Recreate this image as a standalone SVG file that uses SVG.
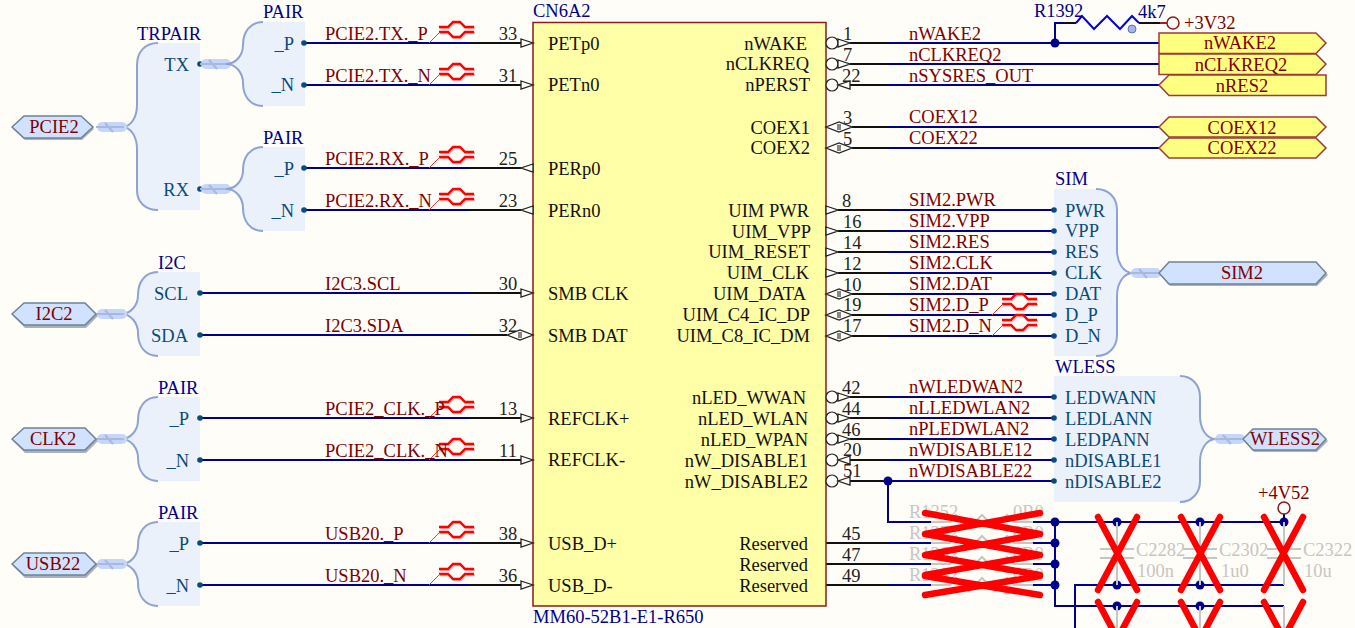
<svg xmlns="http://www.w3.org/2000/svg" xmlns:xlink="http://www.w3.org/1999/xlink" width="1355" height="628" viewBox="0 0 1355 628">
<style>
text{font-family:"Liberation Serif","Times New Roman",serif;font-size:18.5px}
.net{fill:#800000}.pin{fill:#111}.num{fill:#222}.ttl{fill:#00008b}.ent{fill:#0b4a7a}.mid{text-anchor:middle}.end{text-anchor:end}
.gr{fill:#c6c6c2}
.w{fill:none;stroke:#00008b;stroke-width:2}
.k{fill:none;stroke:#111;stroke-width:2}
.g{fill:none;stroke:#c6c6c2;stroke-width:2}
.hb{fill:#ebf1fb;stroke:#8fa3d3;stroke-width:2}
.hr{fill:#ebf1fb}
.st{fill:none;stroke:#c6d6fa;stroke-width:10;stroke-linecap:round}
.sl{fill:none;stroke:#a9b9de;stroke-width:2}
.pw{fill:#d0e2ff;stroke:#6f8296;stroke-width:1.5}
.py{fill:#ffff80;stroke:#9c3a3a;stroke-width:1.5}
.sh{fill:#a9b2bc}
.arr{fill:#fffdf8;stroke:#222;stroke-width:1.3}
.bub{fill:#fffdf8;stroke:#222;stroke-width:1.2}
.d{fill:#0b4a7a}.j{fill:#00008b}
.x{fill:none;stroke:#ff0000;stroke-width:6.5;stroke-linecap:round}
.dpr{fill:none;stroke:#ff0000;stroke-width:2.4}
.dps{fill:none;stroke:#e6b9b9;stroke-width:2.4}
.dpt{fill:none;stroke:#ff3030;stroke-width:1}
</style>
<defs>
<g id="pairL">
<rect class="hr" x="263" y="22" width="42" height="84"/>
<path class="hb" d="M263,22C250,22 243,32 243,45C243,55 236,64 226,64C236,64 243,73 243,83C243,96 250,106 263,106"/>
</g>
<g id="stub">
<path class="st" d="M4,0H24"/><path class="sl" d="M-2,0H26M7,-4L15,5"/>
</g>
<g id="dp">
<path class="dps" d="M11,-15H20L25,-20H32L37,-15H46M11,-10H20L25,-5H32L37,-10H46"/>
<path class="dpr" d="M10,-16H19L24,-21H31L36,-16H45M10,-11H19L24,-6H31L36,-11H45"/>
<path class="dpt" d="M0,0L11,-11"/>
</g>
<polygon id="inL" class="arr" points="521,-4 533,0 521,4"/>
<polygon id="outL" class="arr" points="533,-4 521,0 533,4"/>
<g id="bidL"><polygon class="arr" points="507,0 520,-5 533,0 520,5"/><rect x="518" y="-3" width="4" height="6" fill="#888"/></g>
<polygon id="outR" class="arr" points="826,-4 838,0 826,4"/>
<g id="bidR"><polygon class="arr" points="826,0 839,-5 852,0 839,5"/><rect x="837" y="-3" width="4" height="6" fill="#888"/></g>
<g id="nOutR"><circle class="bub" cx="832" cy="0" r="6"/><polygon class="arr" points="838,-4 850,0 838,4"/></g>
<g id="nInR"><circle class="bub" cx="832" cy="0" r="6"/><polygon class="arr" points="850,-4 838,0 850,4"/></g>
<g id="res"><path class="g" d="M931,0H950L956,-7L969,6L982,-7L995,6L1007,-7L1014,0H1033"/><circle cx="1007" cy="6" r="3.5" fill="#c6c6c2"/></g>
<g id="cap"><path class="g" d="M0,0V26M-17,27H17M-17,36H17M0,37V63"/></g>
</defs>
<rect width="1355" height="628" fill="#fffdf8"/>

<g id="connectors">
<path class="w" d="M305,43H470M305,85H470M305,168H470M305,210H470M200,293H470M200,335H470M200,418H470M200,460H470M200,543H470M200,585H470"/>
<path class="k" d="M470,43H521M470,85H521M470,168H521M470,210H521M470,293H521M470,335H507M470,418H521M470,460H521M470,543H521M470,585H521"/>
<path class="k" d="M850,43H888M850,64H888M850,85H888M852,127H888M852,148H888M838,210H888M838,231H888M838,252H888M838,273H888M852,294H888M852,315H888M852,336H888M850,397H888M850,418H888M850,439H888M850,460H888M850,481H888M826,543H888M826,564H888M826,585H888"/>
<path class="w" d="M888,43H1159M888,64H1159M888,85H1159M888,127H1159M888,148H1159M888,210H1054M888,231H1054M888,252H1054M888,273H1054M888,294H1054M888,315H1054M888,336H1054M888,397H1054M888,418H1054M888,439H1054M888,460H1054M888,481H1054"/>
<path class="w" d="M1055,43V23H1064"/>
<path class="k" d="M1064,23H1076M1139,23H1160"/>
<path d="M1160,23H1167" fill="none" stroke="#9c2020" stroke-width="2"/>
<path class="w" d="M888,481V522H931M888,543H931M888,564H931M888,585H931M1033,522H1284V508M1033,543H1055M1033,564H1055M1033,585H1055M1055,522V606H1284M1075,628V585H1284"/>
<g transform="translate(429,43)"><use href="#dp"/></g>
<g transform="translate(429,85)"><use href="#dp"/></g>
<g transform="translate(429,168)"><use href="#dp"/></g>
<g transform="translate(429,210)"><use href="#dp"/></g>
<g transform="translate(429,418)"><use href="#dp"/></g>
<g transform="translate(429,460)"><use href="#dp"/></g>
<g transform="translate(429,543)"><use href="#dp"/></g>
<g transform="translate(429,585)"><use href="#dp"/></g>
<g transform="translate(992,315)"><use href="#dp"/></g>
<g transform="translate(992,336)"><use href="#dp"/></g>
<g class="j">
<circle cx="1055" cy="43" r="4.5"/><circle cx="888" cy="481" r="4.5"/>
<circle cx="1055" cy="522" r="4.5"/><circle cx="1055" cy="543" r="4.5"/><circle cx="1055" cy="564" r="4.5"/><circle cx="1055" cy="585" r="4.5"/>
<circle cx="1117" cy="522" r="4.5"/><circle cx="1200" cy="522" r="4.5"/><circle cx="1284" cy="522" r="4.5"/>
<circle cx="1117" cy="585" r="4.5"/><circle cx="1200" cy="585" r="4.5"/>
<circle cx="1117" cy="606" r="4.5"/><circle cx="1200" cy="606" r="4.5"/>
</g>
</g>

<g id="net-labels">
<text class="net" x="325" y="40">PCIE2.TX._P</text>
<text class="net" x="325" y="82">PCIE2.TX._N</text>
<text class="net" x="325" y="165">PCIE2.RX._P</text>
<text class="net" x="325" y="207">PCIE2.RX._N</text>
<text class="net" x="325" y="290">I2C3.SCL</text>
<text class="net" x="325" y="332">I2C3.SDA</text>
<text class="net" x="325" y="415">PCIE2_CLK._P</text>
<text class="net" x="325" y="457">PCIE2_CLK._N</text>
<text class="net" x="325" y="540">USB20._P</text>
<text class="net" x="325" y="582">USB20._N</text>
<text class="net" x="909" y="40">nWAKE2</text>
<text class="net" x="909" y="61">nCLKREQ2</text>
<text class="net" x="909" y="82">nSYSRES_OUT</text>
<text class="net" x="909" y="123">COEX12</text>
<text class="net" x="909" y="144">COEX22</text>
<text class="net" x="909" y="206">SIM2.PWR</text>
<text class="net" x="909" y="227">SIM2.VPP</text>
<text class="net" x="909" y="248">SIM2.RES</text>
<text class="net" x="909" y="269">SIM2.CLK</text>
<text class="net" x="909" y="290">SIM2.DAT</text>
<text class="net" x="909" y="311">SIM2.D_P</text>
<text class="net" x="909" y="332">SIM2.D_N</text>
<text class="net" x="909" y="393">nWLEDWAN2</text>
<text class="net" x="909" y="414">nLLEDWLAN2</text>
<text class="net" x="909" y="435">nPLEDWLAN2</text>
<text class="net" x="909" y="456">nWDISABLE12</text>
<text class="net" x="909" y="477">nWDISABLE22</text>
</g>

<g id="CN6A2">
<rect x="533" y="22.5" width="293" height="583.5" fill="#ffffa8" stroke="#8b1a1a" stroke-width="1.5"/>
<text class="ttl" x="533" y="17">CN6A2</text>
<text class="ttl" x="533" y="623">MM60-52B1-E1-R650</text>
<g class="pin">
<text x="548" y="50">PETp0</text><text x="548" y="91">PETn0</text><text x="548" y="175">PERp0</text><text x="548" y="217">PERn0</text>
<text x="548" y="300">SMB CLK</text><text x="548" y="342">SMB DAT</text><text x="548" y="425">REFCLK+</text><text x="548" y="466">REFCLK-</text>
<text x="548" y="550">USB_D+</text><text x="548" y="592">USB_D-</text>
</g>
<g class="pin end">
<text x="807" y="50">nWAKE</text><text x="809" y="70">nCLKREQ</text><text x="810" y="91">nPERST</text>
<text x="810" y="134">COEX1</text><text x="810" y="154">COEX2</text>
<text x="809" y="217">UIM PWR</text><text x="811" y="238">UIM_VPP</text><text x="810" y="258">UIM_RESET</text><text x="809" y="279">UIM_CLK</text>
<text x="806" y="300">UIM_DATA</text><text x="810" y="321">UIM_C4_IC_DP</text><text x="810" y="342">UIM_C8_IC_DM</text>
<text x="806" y="404">nLED_WWAN</text><text x="808" y="425">nLED_WLAN</text><text x="808" y="446">nLED_WPAN</text>
<text x="808" y="467">nW_DISABLE1</text><text x="808" y="488">nW_DISABLE2</text>
<text x="808" y="550">Reserved</text><text x="808" y="571">Reserved</text><text x="808" y="592">Reserved</text>
</g>
<g class="num mid">
<text x="508" y="40">33</text><text x="508" y="82">31</text><text x="508" y="165">25</text><text x="508" y="207">23</text>
<text x="508" y="290">30</text><text x="508" y="332">32</text><text x="508" y="415">13</text><text x="508" y="457">11</text>
<text x="508" y="540">38</text><text x="508" y="582">36</text>
</g>
<g class="num">
<text x="843" y="40">1</text><text x="843" y="61">7</text><text x="842" y="82">22</text><text x="843" y="124">3</text><text x="843" y="145">5</text>
<text x="842" y="207">8</text><text x="843" y="228">16</text><text x="843" y="249">14</text><text x="843" y="270">12</text><text x="843" y="291">10</text><text x="843" y="311">19</text><text x="843" y="332">17</text>
<text x="842" y="394">42</text><text x="842" y="415">44</text><text x="842" y="436">46</text><text x="843" y="456">20</text><text x="843" y="477">51</text>
<text x="842" y="540">45</text><text x="842" y="561">47</text><text x="842" y="582">49</text>
</g>
<use href="#inL" y="43"/><use href="#inL" y="85"/><use href="#outL" y="168"/><use href="#outL" y="210"/><use href="#inL" y="293"/><use href="#bidL" y="335"/><use href="#inL" y="418"/><use href="#inL" y="460"/><use href="#inL" y="543"/><use href="#inL" y="585"/>
<use href="#nOutR" y="43"/><use href="#nOutR" y="64"/><use href="#nInR" y="85"/><use href="#bidR" y="127"/><use href="#bidR" y="148"/>
<use href="#outR" y="210"/><use href="#outR" y="231"/><use href="#outR" y="252"/><use href="#outR" y="273"/><use href="#bidR" y="294"/><use href="#bidR" y="315"/><use href="#bidR" y="336"/>
<use href="#nOutR" y="397"/><use href="#nOutR" y="418"/><use href="#nOutR" y="439"/><use href="#nInR" y="460"/><use href="#nInR" y="481"/>
</g>

<g id="harness-TRPAIR">
<rect class="hr" x="158" y="43" width="42" height="167"/>
<path class="hb" d="M158,43C145,43 137,52 137,65V105C137,117 131,127 122,127C131,127 137,137 137,149V190C137,202 145,210 158,210"/>
<text class="ttl" x="137" y="40">TRPAIR</text>
<text class="ent end" x="189" y="71">TX</text><text class="ent end" x="189" y="196">RX</text>
<circle class="d" cx="200" cy="64" r="2.8"/><circle class="d" cx="200" cy="189" r="2.8"/>
<use href="#stub" x="98" y="127"/><use href="#stub" x="202" y="64"/><use href="#stub" x="202" y="189"/>
</g>
<g id="harness-PAIR-TX">
<use href="#pairL"/>
<text class="ttl" x="263" y="18">PAIR</text>
<text class="ent end" x="294" y="50">_P</text><text class="ent end" x="294" y="91">_N</text>
<circle class="d" cx="304" cy="43" r="2.8"/><circle class="d" cx="304" cy="85" r="2.8"/>
</g>
<g id="harness-PAIR-RX">
<use href="#pairL" y="125"/>
<text class="ttl" x="263" y="144">PAIR</text>
<text class="ent end" x="294" y="175">_P</text><text class="ent end" x="294" y="217">_N</text>
<circle class="d" cx="304" cy="168" r="2.8"/><circle class="d" cx="304" cy="210" r="2.8"/>
</g>
<g id="harness-I2C">
<use href="#pairL" x="-105" y="250"/>
<text class="ttl" x="158" y="269">I2C</text>
<text class="ent end" x="188" y="300">SCL</text><text class="ent end" x="188" y="342">SDA</text>
<circle class="d" cx="200" cy="293" r="2.8"/><circle class="d" cx="200" cy="335" r="2.8"/>
<use href="#stub" x="98" y="314"/>
</g>
<g id="harness-PAIR-CLK">
<use href="#pairL" x="-105" y="375"/>
<text class="ttl" x="158" y="394">PAIR</text>
<text class="ent end" x="189" y="425">_P</text><text class="ent end" x="189" y="467">_N</text>
<circle class="d" cx="200" cy="418" r="2.8"/><circle class="d" cx="200" cy="460" r="2.8"/>
<use href="#stub" x="98" y="439"/>
</g>
<g id="harness-PAIR-USB">
<use href="#pairL" x="-105" y="500"/>
<text class="ttl" x="158" y="519">PAIR</text>
<text class="ent end" x="189" y="550">_P</text><text class="ent end" x="189" y="592">_N</text>
<circle class="d" cx="200" cy="543" r="2.8"/><circle class="d" cx="200" cy="585" r="2.8"/>
<use href="#stub" x="98" y="564"/>
</g>
<g id="harness-SIM">
<rect class="hr" x="1054" y="189" width="42" height="167"/>
<path class="hb" d="M1096,189C1109,189 1117,198 1117,210V250C1117,262 1123,273 1133,273C1123,273 1117,284 1117,296V335C1117,347 1109,356 1096,356"/>
<text class="ttl" x="1055" y="185">SIM</text>
<g class="ent"><text x="1065" y="217">PWR</text><text x="1065" y="237">VPP</text><text x="1065" y="258">RES</text><text x="1065" y="279">CLK</text><text x="1065" y="300">DAT</text><text x="1065" y="321">D_P</text><text x="1065" y="342">D_N</text></g>
<circle class="d" cx="1054" cy="210" r="2.8"/><circle class="d" cx="1054" cy="231" r="2.8"/><circle class="d" cx="1054" cy="252" r="2.8"/><circle class="d" cx="1054" cy="273" r="2.8"/><circle class="d" cx="1054" cy="294" r="2.8"/><circle class="d" cx="1054" cy="315" r="2.8"/><circle class="d" cx="1054" cy="336" r="2.8"/>
<use href="#stub" x="1132" y="273"/>
</g>
<g id="harness-WLESS">
<rect class="hr" x="1054" y="376" width="126" height="126"/>
<path class="hb" d="M1180,376C1192,376 1200,385 1200,397V416C1200,428 1206,439 1216,439C1206,439 1200,450 1200,462V481C1200,493 1192,502 1180,502"/>
<text class="ttl" x="1055" y="373">WLESS</text>
<g class="ent"><text x="1065" y="404">LEDWANN</text><text x="1065" y="425">LEDLANN</text><text x="1065" y="446">LEDPANN</text><text x="1065" y="467">nDISABLE1</text><text x="1065" y="488">nDISABLE2</text></g>
<circle class="d" cx="1054" cy="397" r="2.8"/><circle class="d" cx="1054" cy="418" r="2.8"/><circle class="d" cx="1054" cy="439" r="2.8"/><circle class="d" cx="1054" cy="460" r="2.8"/><circle class="d" cx="1054" cy="481" r="2.8"/>
<use href="#stub" x="1216" y="439"/>
</g>

<g id="port-PCIE2"><polygon class="sh" points="13,129 25,140 82,140 94,129 82,118 25,118"/><polygon class="pw" points="12,127 24,116 81,116 93,127 81,138 24,138"/><text class="net mid" x="54" y="133">PCIE2</text></g>
<g id="port-I2C2"><polygon class="sh" points="13,316 25,328 86,328 98,316 86,305 25,305"/><polygon class="pw" points="12,314 24,303 85,303 96,314 85,325 24,325"/><text class="net mid" x="54" y="320">I2C2</text></g>
<g id="port-CLK2"><polygon class="sh" points="13,441 25,453 86,453 98,441 86,430 25,430"/><polygon class="pw" points="12,439 24,428 85,428 96,439 85,450 24,450"/><text class="net mid" x="53" y="445">CLK2</text></g>
<g id="port-USB22"><polygon class="sh" points="13,566 25,578 86,578 98,566 86,555 25,555"/><polygon class="pw" points="12,564 24,553 85,553 96,564 85,575 24,575"/><text class="net mid" x="53" y="570">USB22</text></g>

<g id="port-nWAKE2"><polygon class="py" points="1159,33 1316,33 1326,43 1316,53.5 1159,53.5"/><text class="net mid" x="1240" y="49">nWAKE2</text></g>
<g id="port-nCLKREQ2"><polygon class="py" points="1159,54 1316,54 1326,64 1316,74.5 1159,74.5"/><text class="net mid" x="1241" y="71">nCLKREQ2</text></g>
<g id="port-nRES2"><polygon class="py" points="1159,85 1169,75 1326,75 1326,95.5 1169,95.5"/><text class="net mid" x="1242" y="92">nRES2</text></g>
<g id="port-COEX12"><polygon class="py" points="1159,127 1169,117 1316,117 1326,127 1316,137 1169,137"/><text class="net mid" x="1242" y="134">COEX12</text></g>
<g id="port-COEX22"><polygon class="py" points="1159,148 1169,138 1316,138 1326,148 1316,158 1169,158"/><text class="net mid" x="1242" y="154">COEX22</text></g>
<g id="port-SIM2"><polygon class="sh" points="1160,275 1170,286 1317,286 1328,275 1317,264 1170,264"/><polygon class="pw" points="1159,273 1169,262 1316,262 1326,273 1316,284 1169,284"/><text class="net mid" x="1242" y="279">SIM2</text></g>
<g id="port-WLESS2"><polygon class="sh" points="1244,441 1254,452 1317,452 1328,441 1317,431 1254,431"/><polygon class="pw" points="1243,439 1253,429 1316,429 1326,439 1316,450 1253,450"/><text class="net mid" x="1285" y="445">WLESS2</text></g>

<g id="R1392">
<path d="M1076,23L1082,16L1094,29L1107,16L1120,29L1132,16L1139,23" fill="none" stroke="#0000e0" stroke-width="2"/>
<circle cx="1132" cy="29" r="4" fill="#a8b4e0" stroke="#5a6fd0"/>
<text class="ttl" x="1034" y="17">R1392</text><text class="ttl" x="1138" y="18">4k7</text>
</g>
<g id="pwr-3V32"><circle cx="1173" cy="23" r="6" fill="none" stroke="#8b1a1a" stroke-width="1.5"/><text class="net" x="1184" y="29">+3V32</text></g>
<g id="pwr-4V52"><circle cx="1284" cy="508" r="6" fill="#fffdf8" stroke="#8b1a1a" stroke-width="1.5"/><text class="net" x="1258" y="499">+4V52</text></g>

<g id="R1352"><use href="#res" y="522"/><text class="gr" x="909" y="518">R1352</text><text class="gr" x="1013" y="518">0R0</text></g>
<g id="R1372"><use href="#res" y="543"/><text class="gr" x="909" y="539">R1372</text><text class="gr" x="1013" y="539">0R0</text></g>
<g id="R1362"><use href="#res" y="564"/><text class="gr" x="909" y="560">R1362</text><text class="gr" x="1013" y="560">0R0</text></g>
<g id="R1282"><use href="#res" y="585"/><text class="gr" x="909" y="581">R1282</text><text class="gr" x="1013" y="581">0R0</text></g>
<g id="C2282"><use href="#cap" x="1117" y="522"/><text class="gr" x="1136" y="556">C2282</text><text class="gr" x="1137" y="577">100n</text></g>
<g id="C2302"><use href="#cap" x="1200" y="522"/><text class="gr" x="1219" y="556">C2302</text><text class="gr" x="1221" y="577">1u0</text></g>
<g id="C2322"><use href="#cap" x="1284" y="522"/><text class="gr" x="1303" y="556">C2322</text><text class="gr" x="1304" y="577">10u</text></g>
<path class="g" d="M1117,606V628M1200,606V628M1284,606V628"/>

<g id="dnp-crosses">
<path class="x" d="M925,513L1040,534M1040,513L925,534M925,534L1040,555M1040,534L925,555M925,555L1040,575M1040,555L925,575M925,576L1040,595M1040,576L925,595"/>
<path class="x" d="M1098,517L1137,590M1137,517L1098,590M1181,517L1220,590M1220,517L1181,590M1264,517L1303,590M1303,517L1264,590"/>
<path class="x" d="M1098,602L1137,675M1137,602L1098,675M1181,602L1220,675M1220,602L1181,675M1264,602L1303,675M1303,602L1264,675"/>
</g>
</svg>
